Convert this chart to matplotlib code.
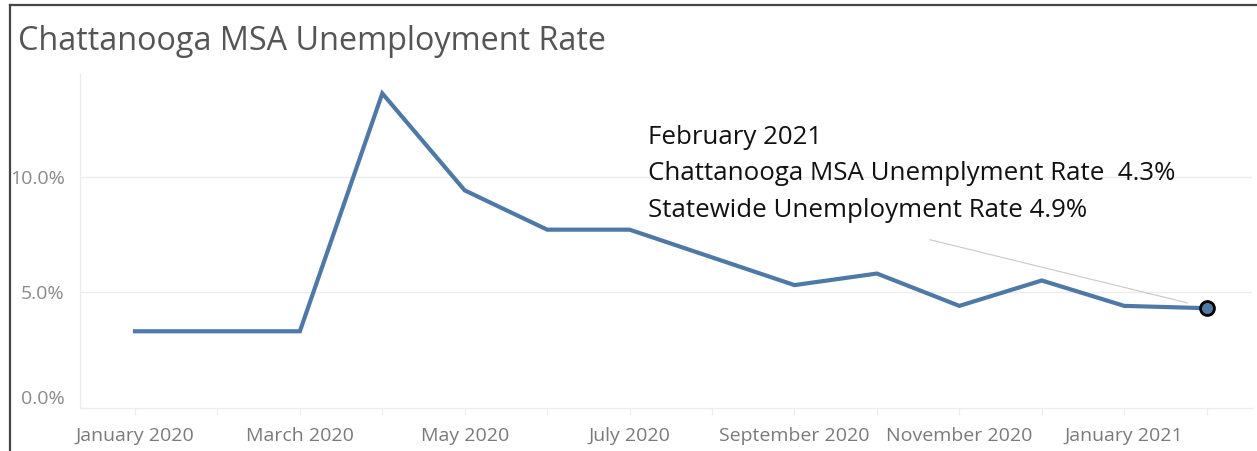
import matplotlib
matplotlib.use("Agg")
import matplotlib.pyplot as plt
from matplotlib.lines import Line2D

months = ["January 2020", "February 2020", "March 2020", "April 2020", "May 2020",
          "June 2020", "July 2020", "August 2020", "September 2020", "October 2020",
          "November 2020", "December 2020", "January 2021", "February 2021"]
rates = [3.3, 3.3, 3.3, 13.6, 9.4, 7.7, 7.7, 6.5, 5.3, 5.8, 4.4, 5.5, 4.4, 4.3]
ytick_vals = [0, 5, 10]
ytick_labels = ["0.0%", "5.0%", "10.0%"]
title = "Chattanooga MSA Unemployment Rate"
note_lines = ["February 2021",
              "Chattanooga MSA Unemplyment Rate  4.3%",
              "Statewide Unemployment Rate 4.9%"]

W, H = 1257, 451
fig = plt.figure(figsize=(W / 100, H / 100), dpi=100)
fig.patch.set_facecolor("white")
font = "Open Sans"

ax = fig.add_axes([80 / W, 1 - 407.5 / H, (1252 - 80) / W, (407.5 - 74) / H])
x = list(range(len(months)))
ax.plot(x, rates, color="#4e79a7", lw=3.0, solid_joinstyle="miter", zorder=3)
ax.plot([x[-1]], [rates[-1]], marker="o", ms=10, mfc="#4e79a7", mec="black",
        mew=2.0, zorder=4)

ax.set_xlim(-0.667, 13.55)
ax.set_ylim(0, 14.44)
for s in ["top", "right"]:
    ax.spines[s].set_visible(False)
ax.spines["left"].set_color("#ececec")
ax.spines["bottom"].set_color("#ececec")
ax.spines["left"].set_linewidth(1)
ax.spines["bottom"].set_linewidth(1)

ax.set_yticks(ytick_vals)
ax.set_yticklabels(ytick_labels)
for v in ytick_vals[1:]:
    ax.axhline(v, color="#ececec", lw=1, zorder=1)
ax.tick_params(axis="y", length=0, pad=11, labelsize=14, labelcolor="#8a8a8a")
for lab in ax.get_yticklabels():
    lab.set_fontfamily(font)
ax.get_yticklabels()[0].set_verticalalignment("bottom")

ax.set_xticks(x)
ax.set_xticklabels([m if i % 2 == 0 else "" for i, m in enumerate(months)])
ax.tick_params(axis="x", length=5, color="#ececec", pad=9, labelsize=14,
               labelcolor="#7a7a7a")
for lab in ax.get_xticklabels():
    lab.set_fontfamily(font)

fig.text(18 / W, 1 - 41 / H, title, fontsize=23.3, color="#555555",
         family=font, va="center", ha="left")

ys = [138, 174, 211]
for t, yy in zip(note_lines, ys):
    fig.text(648 / W, 1 - yy / H, t, fontsize=18.6, color="#111111",
             family=font, va="center", ha="left")

ax.annotate("", xy=(x[-1] - 0.2, rates[-1] + 0.2), xycoords="data",
            xytext=(927 / W, 1 - 239 / H), textcoords="figure fraction",
            arrowprops=dict(arrowstyle="-", color="#c8c8c8", lw=0.8))

# frame around dashboard
fig.add_artist(Line2D([10 / W, 10 / W], [0, 1 - 5 / H], color="#444444", lw=1.6,
                      transform=fig.transFigure))
fig.add_artist(Line2D([10 / W, 1], [1 - 5 / H, 1 - 5 / H], color="#444444", lw=1.6,
                      transform=fig.transFigure))

fig.savefig("out.png", dpi=100)
